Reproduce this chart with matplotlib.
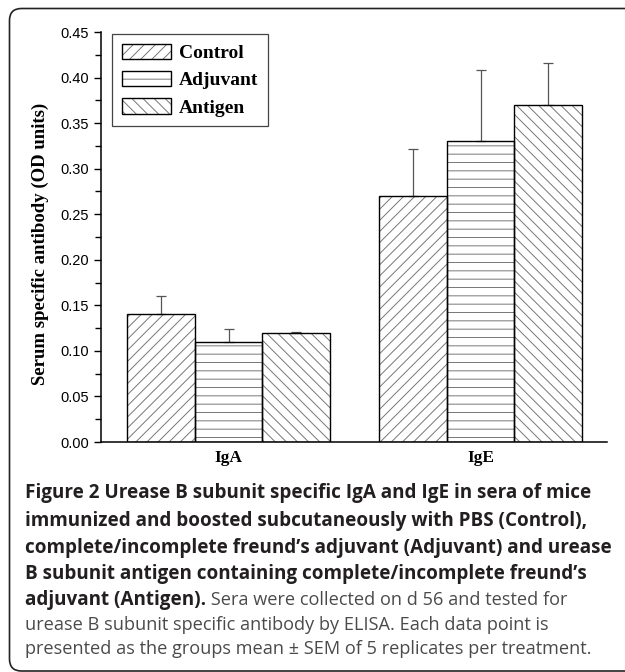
import matplotlib
matplotlib.use("Agg")
import matplotlib.pyplot as plt
import numpy as np
from matplotlib.patches import Patch, FancyBboxPatch
from matplotlib.legend_handler import HandlerTuple
from matplotlib.ticker import MultipleLocator

# values
groups = ["IgA", "IgE"]
treatments = ["Control", "Adjuvant", "Antigen"]
control_mean = [0.14, 0.27]
adjuvant_mean = [0.11, 0.33]
antigen_mean = [0.12, 0.37]
control_sem = [0.020, 0.052]
adjuvant_sem = [0.014, 0.078]
antigen_sem = [0.0005, 0.046]

caption_bold = [
    "Figure 2 Urease B subunit specific IgA and IgE in sera of mice",
    "immunized and boosted subcutaneously with PBS (Control),",
    "complete/incomplete freund\u2019s adjuvant (Adjuvant) and urease",
    "B subunit antigen containing complete/incomplete freund\u2019s",
    "adjuvant (Antigen).",
]
caption_plain = [
    " Sera were collected on d 56 and tested for",
    "urease B subunit specific antibody by ELISA. Each data point is",
    "presented as the groups mean \u00b1 SEM of 5 replicates per treatment.",
]

plt.rcParams["hatch.linewidth"] = 0.7

W, H = 625, 672
fig = plt.figure(figsize=(W / 100, H / 100), dpi=100)

# rounded frame around the whole panel (right side runs off the page)
bg = fig.add_axes([0, 0, 1, 1], zorder=-1)
bg.set_xlim(0, W)
bg.set_ylim(H, 0)
bg.axis("off")
bg.add_patch(FancyBboxPatch((9.5, 8.5), 720, 662.5,
                            boxstyle="round,pad=0,rounding_size=12",
                            fill=False, ec="#222222", lw=1.2))

ax = fig.add_axes([101 / W, 1 - 442 / H, 506 / W, 410 / H])

means = [control_mean, adjuvant_mean, antigen_mean]
sems = [control_sem, adjuvant_sem, antigen_sem]
hatches = ["///", "--", "\\\\\\"]
w = 0.268
x = np.arange(len(groups))

for i, (m, s, h) in enumerate(zip(means, sems, hatches)):
    pos = x + (i - 1) * w
    ax.bar(pos, m, w, facecolor="white", edgecolor="#777777", lw=0,
           hatch=h, zorder=1)
    ax.errorbar(pos, m, yerr=[np.zeros(len(s)), s], fmt="none",
                ecolor="#555555", elinewidth=0.9, capsize=3.5,
                capthick=0.9, zorder=2)
    ax.bar(pos, m, w, fill=False, edgecolor="black", lw=1.0, zorder=3)

ax.set_xlim(-0.506, 1.502)
ax.set_ylim(0, 0.45)
ax.yaxis.set_major_locator(MultipleLocator(0.05))
ax.yaxis.set_minor_locator(MultipleLocator(0.025))
ax.set_yticks(np.arange(0, 0.451, 0.05))
ax.set_yticklabels([f"{v:.2f}" for v in np.arange(0, 0.451, 0.05)],
                   family="Liberation Sans", size=10.5)
ax.set_xticks(x)
ax.set_xticklabels(groups, family="Liberation Serif", weight="bold", size=12.5)
ax.tick_params(axis="x", length=0, pad=6)
ax.tick_params(axis="y", which="major", length=5, width=1, pad=3.5)
ax.tick_params(axis="y", which="minor", length=4, width=1)
for side in ["top", "right"]:
    ax.spines[side].set_visible(False)
for side in ["left", "bottom"]:
    ax.spines[side].set_linewidth(1.1)

ax.set_ylabel("Serum specific antibody (OD units)", family="Liberation Serif",
              weight="bold", size=13.5)
ax.yaxis.set_label_coords(-0.103, 0.483)

handles = [(Patch(facecolor="white", edgecolor="#777777", hatch=h, lw=0),
            Patch(fill=False, edgecolor="black", lw=1.0)) for h in hatches]
leg = ax.legend(handles, treatments, loc="upper left",
                bbox_to_anchor=(112 / W, 1 - 34 / H),
                bbox_transform=fig.transFigure, borderaxespad=0,
                prop=dict(family="Liberation Serif", weight="bold", size=14),
                handlelength=2.55, handleheight=0.85, handletextpad=0.4,
                labelspacing=0.45, borderpad=0.5, fancybox=False,
                framealpha=1, handler_map={tuple: HandlerTuple(ndivide=1)})
leg.get_frame().set_edgecolor("#444444")
leg.get_frame().set_linewidth(0.9)

# caption
baselines = [498, 526, 553, 579, 605, 630, 654]
cap_x = 25 / W
bold_kw = dict(family="Open Sans", weight="bold", size=13.6, color="#231f20",
               va="baseline")
plain_kw = dict(family="Open Sans", size=13.1, color="#4a4a4a", va="baseline")
last = None
for line, yb in zip(caption_bold, baselines):
    last = fig.text(cap_x, 1 - yb / H, line, **bold_kw)
r = fig.canvas.get_renderer()
bb = last.get_window_extent(renderer=r)
fig.text(bb.x1 / W, 1 - baselines[4] / H, caption_plain[0], **plain_kw)
for line, yb in zip(caption_plain[1:], baselines[5:]):
    fig.text(cap_x, 1 - yb / H, line, **plain_kw)

fig.savefig("out.png", dpi=100)
